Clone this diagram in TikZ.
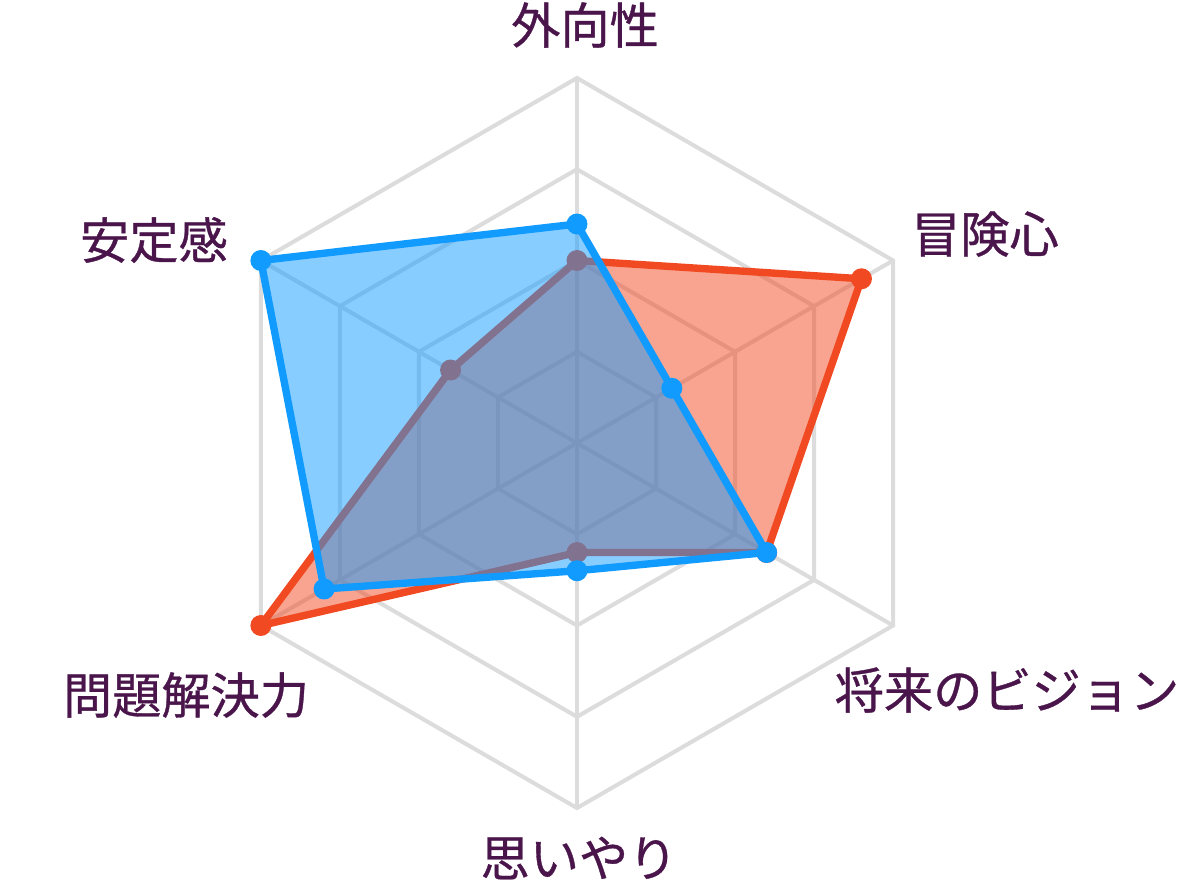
\documentclass[tikz,border=0pt]{standalone}
\usepackage{fontspec}
\newfontfamily\jpfont[FakeBold=0.7]{Noto Sans CJK JP}
\definecolor{gridgray}{HTML}{DCDCDC}
\definecolor{labelpurple}{HTML}{4A154B}
\definecolor{seriesred}{HTML}{F14A22}
\definecolor{seriesblue}{HTML}{129BFF}
\newcommand{\rad}{3.65}
\tikzset{
  axislabel/.style={text=labelpurple, inner sep=0pt, font=\jpfont\fontsize{14}{16}\selectfont},
  gridline/.style={draw=gridgray, line width=1.15pt},
  redline/.style={draw=seriesred, line width=2.1pt, line join=round},
  blueline/.style={draw=seriesblue, line width=2.1pt, line join=round}
}

\begin{document}
\begin{tikzpicture}
				\useasboundingbox (-5.77,-4.48) rectangle (6.15,4.43);
				\foreach \r in {0.25,0.5,0.75,1}
					\draw[gridline] (90:{\r*\rad}) -- (30:{\r*\rad}) -- (-30:{\r*\rad}) -- (-90:{\r*\rad}) -- (210:{\r*\rad}) -- (150:{\r*\rad}) -- cycle;
				\foreach \a in {90,30,-30,-90,210,150}
					\draw[gridline] (0,0) -- (\a:\rad);
				\node[axislabel] (extra) at (0.08, 4.18) {外向性};
				\node[axislabel] (adv) at (4.08, 2.09) {冒険心};
				\node[axislabel] (vision) at (4.30, -2.47) {将来のビジョン};
				\node[axislabel] (care) at (0.02, -4.15) {思いやり};
				\node[axislabel] (solve) at (-3.91, -2.52) {問題解決力};
				\node[axislabel] (stable) at (-4.23, 2.03) {安定感};
				\coordinate (r1) at (90:{0.5*\rad});
				\coordinate (r2) at (30:{0.9*\rad});
				\coordinate (r3) at (-30:{0.6*\rad});
				\coordinate (r4) at (-90:{0.3*\rad});
				\coordinate (r5) at (210:{1.0*\rad});
				\coordinate (r6) at (150:{0.4*\rad});
				\coordinate (b1) at (90:{0.6*\rad});
				\coordinate (b2) at (30:{0.3*\rad});
				\coordinate (b3) at (-30:{0.6*\rad});
				\coordinate (b4) at (-90:{0.35*\rad});
				\coordinate (b5) at (210:{0.8*\rad});
				\coordinate (b6) at (150:{1.0*\rad});
				\fill[seriesred, fill opacity=0.5] (r1) -- (r2) -- (r3) -- (r4) -- (r5) -- (r6) -- cycle;
				\draw[redline] (r1) -- (r2) -- (r3) -- (r4) -- (r5) -- (r6) -- cycle;
				\foreach \p in {r1,r2,r3,r4,r5,r6}
					\fill[seriesred] (\p) circle (0.105);
				\fill[seriesblue, fill opacity=0.5] (b1) -- (b2) -- (b3) -- (b4) -- (b5) -- (b6) -- cycle;
				\draw[blueline] (b1) -- (b2) -- (b3) -- (b4) -- (b5) -- (b6) -- cycle;
				\foreach \p in {b1,b2,b3,b4,b5,b6}
					\fill[seriesblue] (\p) circle (0.105);
			\end{tikzpicture}
\end{document}
